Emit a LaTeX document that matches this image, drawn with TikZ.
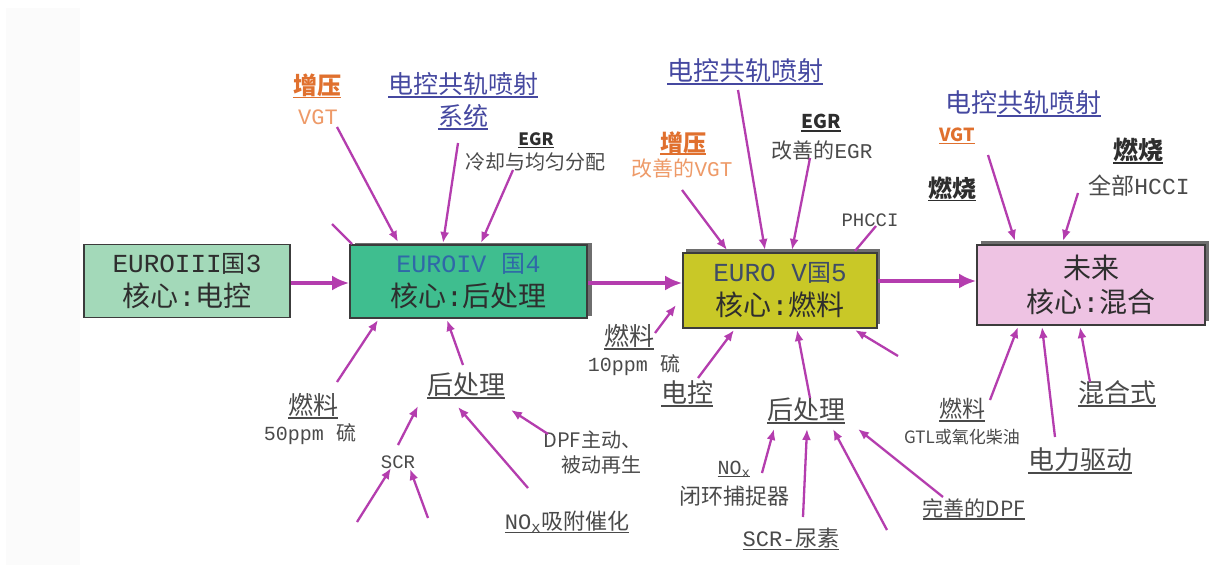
\documentclass[tikz,border=0pt]{standalone}
\usepackage{fontspec}
\setmainfont{Noto Sans CJK SC}
\newfontfamily\lat{Liberation Mono}
\usetikzlibrary{arrows.meta,shadows}
\definecolor{arrc}{HTML}{B43DAE}
\definecolor{boxline}{HTML}{3C3C3C}
\definecolor{shadowgray}{HTML}{6E6E6E}
\definecolor{b1fill}{HTML}{A3D9B9}
\definecolor{b2fill}{HTML}{3FBE8F}
\definecolor{b3fill}{HTML}{C9C827}
\definecolor{b4fill}{HTML}{EEC3E3}
\definecolor{txt}{HTML}{4A4A4A}
\definecolor{dark}{HTML}{2E2E2E}
\definecolor{blu}{HTML}{4548A0}
\definecolor{orgD}{HTML}{E0702E}
\definecolor{orgL}{HTML}{EE9A68}
\definecolor{b2txt}{HTML}{2F68A8}
\definecolor{b3txt}{HTML}{3F4C66}
\definecolor{stripgray}{HTML}{FBFBFB}
\newcommand\myul[1]{{\setbox0\hbox{#1}\leavevmode\rlap{\rule[-0.16em]{\wd0}{0.065em}}\box0}}
\newcommand\fsz[1]{\fontsize{#1}{#1}\selectfont}
\begin{document}
\begin{tikzpicture}[x=1pt,y=-1pt,
  lbl/.style={inner sep=0pt, outer sep=0pt, text=txt, align=center},
  box/.style={draw=boxline, line width=1.6pt, align=center, inner sep=0pt, text=dark, font=\fsz{26}},
  arr/.style={draw=arrc, line width=2.3pt, -{Latex[length=11pt,width=9pt]}},
  ln/.style={draw=arrc, line width=2.3pt},
  mainarr/.style={draw=arrc, line width=4.5pt, -{Latex[length=17pt,width=15pt]}}]
\useasboundingbox (0,0) rectangle (1219,565);
\fill[white] (0,0) rectangle (1219,565);
\fill[stripgray] (6,8) rectangle (80,565);

% boxes
\node[box, fill=b1fill, minimum width=206pt, minimum height=73pt] (b1) at (187,281)
  {{\color{dark}\fsz{26}\lat EUROIII}{\fsz{24}国}{\fsz{26}\lat 3}\\[8pt]{\fsz{28}核心{\lat :}电控}};
\node[box, fill=b2fill, minimum width=237pt, minimum height=73pt,
  drop shadow={shadow xshift=5pt,shadow yshift=2pt,fill=shadowgray,opacity=1}] (b2) at (468.5,281.5)
  {{\color{b2txt}{\fsz{25}\lat EUROIV }{\fsz{24}国}{\fsz{25}\lat 4}}\\[8pt]{\fsz{28}核心{\lat :}后处理}};
\node[box, fill=b3fill, minimum width=194pt, minimum height=75pt,
  drop shadow={shadow xshift=3pt,shadow yshift=4pt,fill=shadowgray,opacity=1}] (b3) at (780,290.5)
  {{\color{b3txt}{\fsz{26}\lat EURO V}{\fsz{24}国}{\fsz{26}\lat 5}}\\[8pt]{\fsz{28}核心{\lat :}燃料}};
\node[box, fill=b4fill, minimum width=228pt, minimum height=80pt,
  drop shadow={shadow xshift=4pt,shadow yshift=4pt,fill=shadowgray,opacity=1}] (b4) at (1091,285)
  {{\fsz{28}未来}\\[8pt]{\fsz{28}核心{\lat :}混合}};

% main arrows
\draw[mainarr] (b1.east |- 0,283) -- (b2.west |- 0,283);
\draw[mainarr] (b2.east |- 0,283) -- (b3.west |- 0,283);
\draw[mainarr] (b3.east |- 0,281) -- (b4.west |- 0,281);

% labels around box 2
\node[lbl, text=orgD, font=\fsz{24}\bfseries] (zy1) at (317,86) {\myul{增压}};
\node[lbl, text=orgL, font=\fsz{22}] (vgt1) at (318,117) {\lat VGT};
\node[lbl, text=blu, font=\fsz{25}] (dk1) at (463,85) {\myul{电控共轨喷射}};
\node[lbl, text=blu, font=\fsz{25}] (dk1b) at (463,117) {\myul{系统}};
\node[lbl, text=dark, font=\fsz{17}\bfseries] (egr1) at (536,140) {\myul{EGR}};
\node[lbl, font=\fsz{20}] (egr1t) at (535,162) {冷却与均匀分配};
\node[lbl, font=\fsz{25}] (fuel1) at (313,406) {\myul{燃料}};
\node[lbl, font=\fsz{20}] (fuel1t) at (310,434) {{\lat 50ppm }硫};
\node[lbl, font=\fsz{26}] (ht1) at (466,386) {\myul{后处理}};
\node[lbl, font=\fsz{19}] (scr1) at (398,462) {\lat SCR};
\node[lbl, font=\fsz{22}] (nox1) at (567,522) {\myul{{\lat NO}\textsubscript{\lat x}吸附催化}};
\node[lbl, font=\fsz{20}, align=right, anchor=east] (dpf1) at (641,452) {DPF主动、\\[5pt]被动再生};

% labels around box 3
\node[lbl, text=blu, font=\fsz{26}] (dk2) at (745,72) {\myul{电控共轨喷射}};
\node[lbl, text=orgD, font=\fsz{23}\bfseries] (zy2) at (683,143) {\myul{增压}};
\node[lbl, text=orgL, font=\fsz{21}] (zy2t) at (682,169) {改善的{\lat VGT}};
\node[lbl, text=dark, font=\fsz{19}\bfseries] (egr2) at (821,123) {\myul{EGR}};
\node[lbl, font=\fsz{21}] (egr2t) at (822,151) {改善的{\lat EGR}};
\node[lbl, font=\fsz{19}] (phcci) at (870,220) {\lat PHCCI};
\node[lbl, font=\fsz{25}] (fuel2) at (629,337) {\myul{燃料}};
\node[lbl, font=\fsz{20}] (fuel2t) at (634,365) {{\lat 10ppm }硫};
\node[lbl, font=\fsz{26}] (dk3) at (687,394) {\myul{电控}};
\node[lbl, font=\fsz{26}] (ht2) at (806,411) {\myul{后处理}};
\node[lbl, font=\fsz{20}] (nox2) at (734,469) {\myul{{\lat NO}\textsubscript{\lat x}}};
\node[lbl, font=\fsz{22}] (nox2t) at (734,496) {闭环捕捉器};
\node[lbl, font=\fsz{22}] (scru) at (791,539) {\myul{{\lat SCR-}尿素}};
\node[lbl, font=\fsz{21}] (dpf2) at (974,509) {\myul{完善的DPF}};

% labels around box 4
\node[lbl, text=blu, font=\fsz{26}] (dk4) at (1023,104) {电控\myul{共轨喷射}};
\node[lbl, text=orgD, font=\fsz{18}\bfseries] (vgt4) at (957,136) {\myul{VGT}};
\node[lbl, text=dark, font=\fsz{24}\bfseries] (rs1) at (952,189) {\myul{燃烧}};
\node[lbl, text=dark, font=\fsz{25}\bfseries] (rs2) at (1138,151) {\myul{燃烧}};
\node[lbl, font=\fsz{23}] (rs2t) at (1139,186) {全部{\lat HCCI}};
\node[lbl, font=\fsz{23}] (fuel4) at (962,410) {\myul{燃料}};
\node[lbl, font=\fsz{17}] (fuel4t) at (962,437) {GTL或氧化柴油};
\node[lbl, font=\fsz{26}] (ev) at (1080,461) {\myul{电力驱动}};
\node[lbl, font=\fsz{26}] (hh) at (1117,394) {\myul{混合式}};

% connector end points
\coordinate (a1s) at (337,127); \coordinate (a1e) at (398,242);
\coordinate (a2s) at (332,224); \coordinate (a2e) at (352,244);
\coordinate (a3s) at (458,143); \coordinate (a3e) at (443,243);
\coordinate (a4s) at (513,170); \coordinate (a4e) at (481,243);
\coordinate (a5s) at (337,382); \coordinate (a5e) at (378,320);
\coordinate (a6s) at (463,365); \coordinate (a6e) at (447,320);
\coordinate (a7s) at (398,445); \coordinate (a7e) at (418,406);
\coordinate (a8s) at (357,522); \coordinate (a8e) at (391,468);
\coordinate (a9s) at (428,518); \coordinate (a9e) at (410,469);
\coordinate (a10s) at (528,488); \coordinate (a10e) at (458,407);
\coordinate (a11s) at (548,434); \coordinate (a11e) at (511,410);
\coordinate (b1s) at (738,90);  \coordinate (b1e) at (765,250);
\coordinate (b2s) at (682,190); \coordinate (b2e) at (727,250);
\coordinate (b3s) at (810,158); \coordinate (b3e) at (792,250);
\coordinate (b4s) at (876,226); \coordinate (b4e) at (855,251);
\coordinate (b5s) at (655,333); \coordinate (b5e) at (676,305);
\coordinate (b6s) at (698,378); \coordinate (b6e) at (734,330);
\coordinate (b7s) at (810,398); \coordinate (b7e) at (797,330);
\coordinate (b8s) at (898,356); \coordinate (b8e) at (855,330);
\coordinate (b9s) at (762,473); \coordinate (b9e) at (774,429);
\coordinate (b10s) at (803,517); \coordinate (b10e) at (807,429);
\coordinate (b11s) at (887,530); \coordinate (b11e) at (833,429);
\coordinate (b12s) at (943,497); \coordinate (b12e) at (858,429);
\coordinate (c1s) at (988,155); \coordinate (c1e) at (1015,241);
\coordinate (c2s) at (1078,193); \coordinate (c2e) at (1063,241);
\coordinate (c3s) at (990,400); \coordinate (c3e) at (1018,327);
\coordinate (c4s) at (1055,437); \coordinate (c4e) at (1042,327);
\coordinate (c5s) at (1090,382); \coordinate (c5e) at (1080,327);

\draw[arr] (a1s) -- (a1e);
\draw[ln] (a2s) -- (a2e);
\draw[arr] (a3s) -- (a3e);
\draw[arr] (a4s) -- (a4e);
\draw[arr] (a5s) -- (a5e);
\draw[arr] (a6s) -- (a6e);
\draw[arr] (a7s) -- (a7e);
\draw[arr] (a8s) -- (a8e);
\draw[arr] (a9s) -- (a9e);
\draw[arr] (a10s) -- (a10e);
\draw[arr] (a11s) -- (a11e);
\draw[arr] (b1s) -- (b1e);
\draw[arr] (b2s) -- (b2e);
\draw[arr] (b3s) -- (b3e);
\draw[ln] (b4s) -- (b4e);
\draw[arr] (b5s) -- (b5e);
\draw[arr] (b6s) -- (b6e);
\draw[arr] (b7s) -- (b7e);
\draw[arr] (b8s) -- (b8e);
\draw[arr] (b9s) -- (b9e);
\draw[arr] (b10s) -- (b10e);
\draw[arr] (b11s) -- (b11e);
\draw[arr] (b12s) -- (b12e);
\draw[arr] (c1s) -- (c1e);
\draw[arr] (c2s) -- (c2e);
\draw[arr] (c3s) -- (c3e);
\draw[arr] (c4s) -- (c4e);
\draw[arr] (c5s) -- (c5e);
\end{tikzpicture}
\end{document}
